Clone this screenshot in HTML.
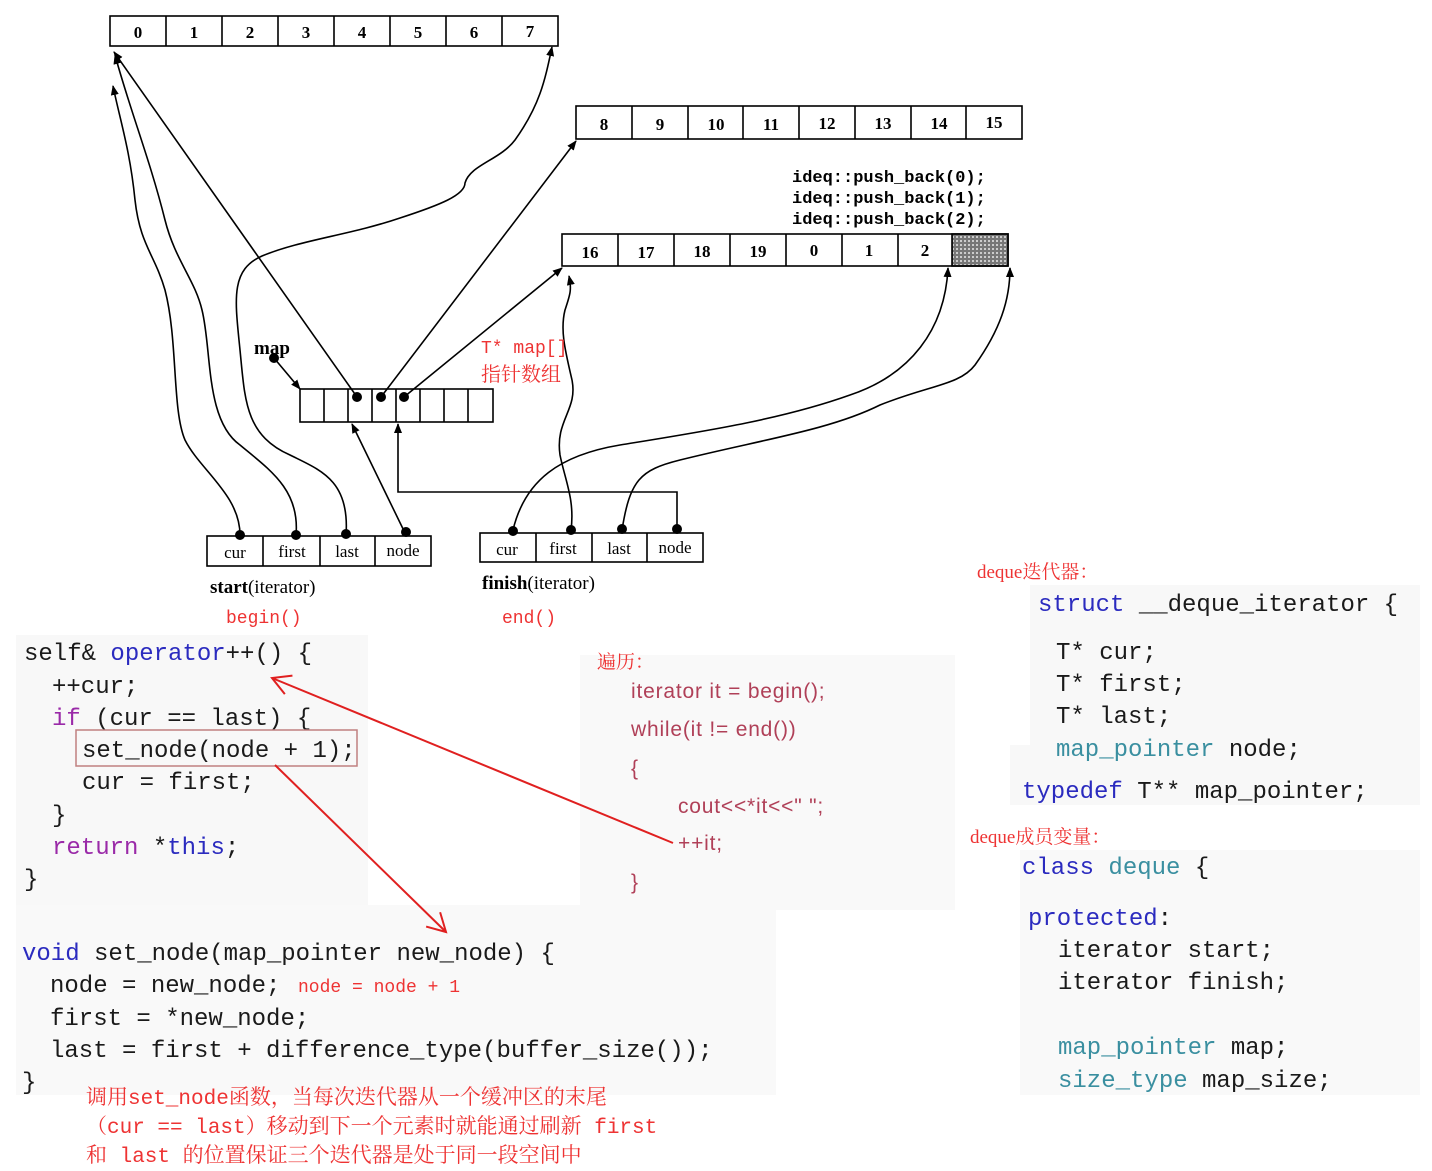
<!DOCTYPE html>
<html><head><meta charset="utf-8"><style>
html,body{margin:0;padding:0;background:#fff;}
svg{display:block;}
.n{font-family:"Liberation Serif",serif;font-weight:bold;font-size:17px;text-anchor:middle;}
.c{font-family:"Liberation Mono","DejaVu Sans Mono",monospace;font-size:24px;fill:#1a1a1a;}
.kb{fill:#2b2bbf;}
.kp{fill:#9a2aa8;}
.kt{fill:#3a8fa0;}
.r{font-family:"Liberation Serif","Noto Serif CJK SC",serif;fill:#ee3333;}
.rm{font-family:"Liberation Mono","Noto Serif CJK SC",monospace;fill:#ee3333;}
.t{font-family:"Liberation Sans","Noto Sans CJK SC",sans-serif;font-size:21px;fill:#b04058;}
</style></head><body>
<svg width="1432" height="1171" viewBox="0 0 1432 1171" xmlns="http://www.w3.org/2000/svg">
<defs>
<marker id="a" markerWidth="10" markerHeight="10" refX="9" refY="5" orient="auto" markerUnits="userSpaceOnUse"><path d="M0,1 L10,5 L0,9 z" fill="#000"/></marker>
<marker id="ra" markerWidth="24" markerHeight="24" refX="20" refY="12" orient="auto" markerUnits="userSpaceOnUse"><path d="M2,2 L20,12 L2,22" fill="none" stroke="#e02020" stroke-width="2"/></marker>
</defs>
<rect x="16" y="635" width="352" height="270" fill="#f8f8f8"/>
<rect x="16" y="905" width="760" height="190" fill="#f9f9f9"/>
<rect x="580" y="655" width="375" height="255" fill="#f9f9f9"/>
<rect x="1030" y="585" width="390" height="160" fill="#f8f8f8"/>
<rect x="1010" y="745" width="410" height="60" fill="#f8f8f8"/>
<rect x="1020" y="850" width="400" height="245" fill="#f9f9f9"/>

<g stroke="#000" stroke-width="1.6" fill="none">
<rect x="110" y="16" width="448" height="30" fill="#fff"/>
<path d="M166,16V46M222,16V46M278,16V46M334,16V46M390,16V46M446,16V46M502,16V46"/>
<rect x="576" y="106" width="446" height="33" fill="#fff"/>
<path d="M632,106V139M688,106V139M743,106V139M799,106V139M855,106V139M911,106V139M966,106V139"/>
<rect x="562" y="234" width="446" height="32" fill="#fff"/>
<rect x="952" y="234" width="56" height="32" fill="#555" stroke="#000"/>
<path d="M618,234V266M674,234V266M730,234V266M786,234V266M842,234V266M898,234V266"/>
<rect x="300" y="389" width="193" height="33" fill="#fff"/>
<path d="M324,389V422M348,389V422M372,389V422M396,389V422M420,389V422M444,389V422M468,389V422"/>
<rect x="207" y="536" width="224" height="30" fill="#fff"/>
<path d="M263,536V566M320,536V566M375,536V566"/>
<rect x="480" y="533" width="223" height="29" fill="#fff"/>
<path d="M536,533V562M592,533V562M647,533V562"/>
</g>
<pattern id="p" width="4" height="4" patternUnits="userSpaceOnUse"><rect width="4" height="4" fill="#777"/><rect width="2" height="2" fill="#ccc"/></pattern>
<rect x="953" y="235" width="54" height="30" fill="url(#p)"/>

<g class="n">
<text x="138" y="38">0</text><text x="194" y="38">1</text><text x="250" y="38">2</text><text x="306" y="38">3</text><text x="362" y="38">4</text><text x="418" y="38">5</text><text x="474" y="38">6</text><text x="530" y="37">7</text>
<text x="604" y="130">8</text><text x="660" y="130">9</text><text x="716" y="130">10</text><text x="771" y="130">11</text><text x="827" y="129">12</text><text x="883" y="129">13</text><text x="939" y="129">14</text><text x="994" y="128">15</text>
<text x="590" y="258">16</text><text x="646" y="258">17</text><text x="702" y="257">18</text><text x="758" y="257">19</text><text x="814" y="256">0</text><text x="869" y="256">1</text><text x="925" y="256">2</text>
</g>
<g font-family="Liberation Mono,monospace" font-weight="bold" font-size="17" fill="#000">
<text x="792" y="182">ideq::push_back(0);</text>
<text x="792" y="203">ideq::push_back(1);</text>
<text x="792" y="224">ideq::push_back(2);</text>
</g>

<g stroke="#000" stroke-width="1.6" fill="none">
<path d="M240,535 C240,495 200,470 185,440 C172,410 178,340 165,290 C155,255 140,245 135,200 C130,150 120,120 113,86" marker-end="url(#a)"/>
<path d="M296,535 C300,490 270,470 240,445 C205,420 212,350 202,310 C195,280 175,260 165,220 C150,160 130,110 115,55" marker-end="url(#a)"/>
<path d="M346,535 C350,480 320,470 290,455 C245,435 245,400 240,350 C235,300 230,270 262,256 C300,240 350,235 400,218 C440,205 465,195 465,183 C470,165 500,160 515,140 C540,105 545,80 552,47" marker-end="url(#a)"/>
<path d="M406,535 L352,424" marker-end="url(#a)"/>
<path d="M357,397 L114,52" marker-end="url(#a)"/>
<path d="M381,397 L576,141" marker-end="url(#a)"/>
<path d="M404,397 L562,268" marker-end="url(#a)"/>
<path d="M274,358 L300,389" marker-end="url(#a)"/>
<path d="M677,530 V492 H398 V424" marker-end="url(#a)"/>
<path d="M571,530 C575,500 565,480 560,455 C555,420 578,410 572,380 C565,350 560,330 565,310 C570,295 572,290 569,276" marker-end="url(#a)"/>
<path d="M513,530 C525,480 560,455 620,445 C700,432 780,420 850,395 C910,375 945,330 948,268" marker-end="url(#a)"/>
<path d="M622,530 C630,480 640,470 680,460 C760,440 830,430 880,405 C930,385 960,385 975,365 C1000,330 1010,300 1010,268" marker-end="url(#a)"/>
</g>
<g fill="#000">
<circle cx="357" cy="397" r="5"/><circle cx="381" cy="397" r="5"/><circle cx="404" cy="397" r="5"/>
<circle cx="274" cy="358" r="5"/>
<circle cx="240" cy="535" r="5"/><circle cx="296" cy="535" r="5"/><circle cx="346" cy="534" r="5"/><circle cx="406" cy="532" r="5"/>
<circle cx="513" cy="531" r="5"/><circle cx="571" cy="530" r="5"/><circle cx="622" cy="529" r="5"/><circle cx="677" cy="529" r="5"/>
</g>
<g font-family="Liberation Serif,serif" font-size="17" fill="#000" text-anchor="middle">
<text x="235" y="558">cur</text><text x="292" y="557">first</text><text x="347" y="557">last</text><text x="403" y="556">node</text>
<text x="507" y="555">cur</text><text x="563" y="554">first</text><text x="619" y="554">last</text><text x="675" y="553">node</text>
</g>
<g font-family="Liberation Serif,serif" font-size="19" fill="#000">
<text x="254" y="354" font-weight="bold">map</text>
<text x="210" y="593"><tspan font-weight="bold">start</tspan>(iterator)</text>
<text x="482" y="589"><tspan font-weight="bold">finish</tspan>(iterator)</text>
</g>
<text class="rm" x="481" y="353" font-size="18">T* map[]</text>
<text class="r" x="481" y="381" font-size="20">指针数组</text>
<text class="rm" x="226" y="623" font-size="18">begin()</text>
<text class="rm" x="502" y="623" font-size="18">end()</text>

<g class="c">
<text x="24" y="660">self&amp; <tspan class="kb">operator</tspan>++() {</text>
<text x="52" y="693">++cur;</text>
<text x="52" y="725"><tspan class="kp">if</tspan> (cur == last) {</text>
<text x="82" y="757">set_node(node + 1);</text>
<text x="82" y="789">cur = first;</text>
<text x="52" y="822">}</text>
<text x="52" y="854"><tspan class="kp">return</tspan> *<tspan class="kb">this</tspan>;</text>
<text x="24" y="886">}</text>
<text x="22" y="960"><tspan class="kb">void</tspan> set_node(map_pointer new_node) {</text>
<text x="50" y="992">node = new_node;</text>
<text x="50" y="1025">first = *new_node;</text>
<text x="50" y="1057">last = first + difference_type(buffer_size());</text>
<text x="22" y="1089">}</text>
</g>
<rect x="76" y="730" width="281" height="36" fill="none" stroke="#c08080" stroke-width="1.5"/>
<text class="rm" x="298" y="992" font-size="18">node = node + 1</text>
<g class="rm" font-size="21">
<text x="86" y="1104">调用set_node函数，当每次迭代器从一个缓冲区的末尾</text>
<text x="86" y="1133">（cur == last）移动到下一个元素时就能通过刷新 first</text>
<text x="86" y="1162">和 last 的位置保证三个迭代器是处于同一段空间中</text>
</g>

<text class="r" x="597" y="668" font-size="19">遍历：</text>
<g class="t" xml:space="preserve">
<text x="631" y="698" letter-spacing="0.8">iterator  it = begin();</text>
<text x="631" y="736" letter-spacing="0.8">while(it != end())</text>
<text x="631" y="775">{</text>
<text x="678" y="813" letter-spacing="0.8">cout&lt;&lt;*it&lt;&lt;"   ";</text>
<text x="678" y="850" letter-spacing="0.8">++it;</text>
<text x="631" y="889">}</text>
</g>

<g stroke="#e02020" stroke-width="2" fill="none">
<path d="M673,843 L272,678" marker-end="url(#ra)"/>
<path d="M275,765 L446,932" marker-end="url(#ra)"/>
</g>

<text class="r" x="977" y="578" font-size="19">deque迭代器：</text>
<text class="r" x="970" y="843" font-size="19">deque成员变量：</text>
<g class="c">
<text x="1038" y="611"><tspan class="kb">struct</tspan> __deque_iterator {</text>
<text x="1056" y="659">T* cur;</text>
<text x="1056" y="691">T* first;</text>
<text x="1056" y="723">T* last;</text>
<text x="1056" y="756"><tspan class="kt">map_pointer</tspan> node;</text>
<text x="1022" y="798"><tspan class="kb">typedef</tspan> T** map_pointer;</text>
<text x="1022" y="874"><tspan class="kb">class</tspan> <tspan class="kt">deque</tspan> {</text>
<text x="1028" y="925"><tspan class="kb">protected</tspan>:</text>
<text x="1058" y="957">iterator start;</text>
<text x="1058" y="989">iterator finish;</text>
<text x="1058" y="1054"><tspan class="kt">map_pointer</tspan> map;</text>
<text x="1058" y="1087"><tspan class="kt">size_type</tspan> map_size;</text>
</g>
</svg>
</body></html>
